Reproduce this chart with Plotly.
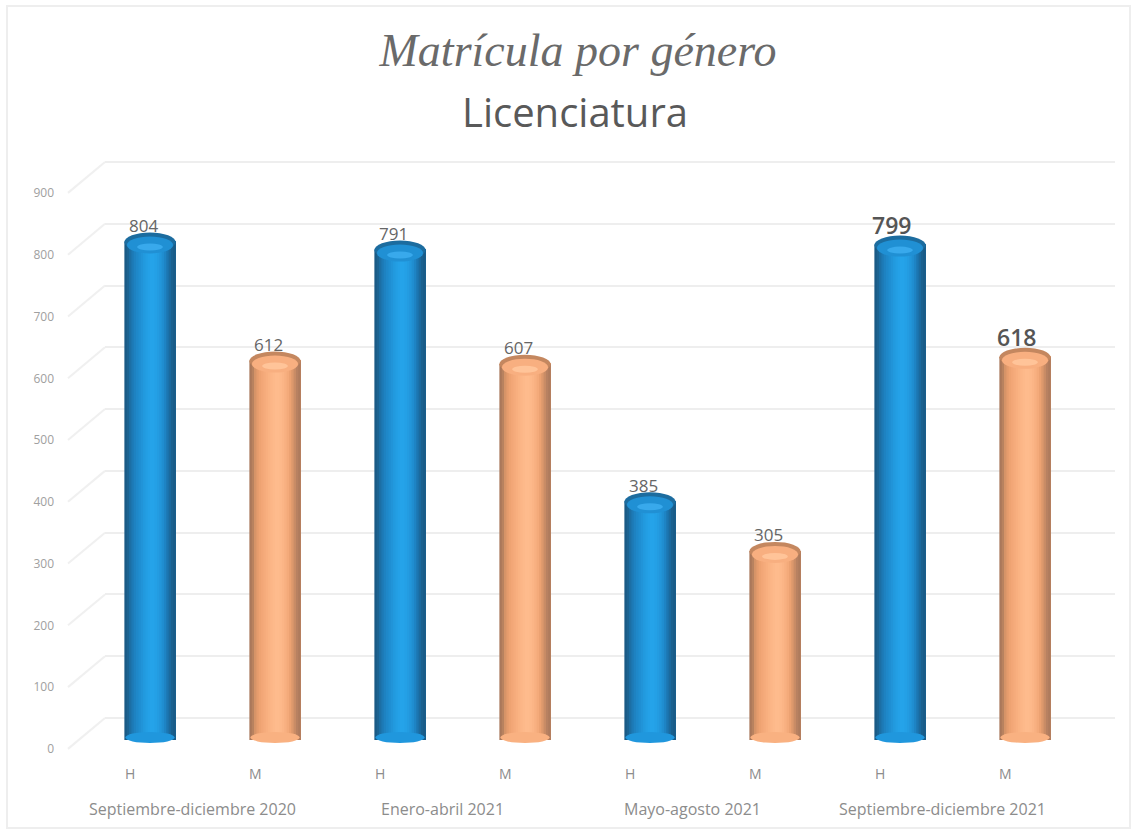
import plotly.graph_objects as go

# ---- data ----
sexo = ["H", "M", "H", "M", "H", "M", "H", "M"]
valores = [804, 612, 791, 607, 385, 305, 799, 618]
periodos = ["Septiembre-diciembre 2020", "Enero-abril 2021", "Mayo-agosto 2021", "Septiembre-diciembre 2021"]
ticks_y = [0, 100, 200, 300, 400, 500, 600, 700, 800, 900]
titulo = "Matrícula por género"
subtitulo = "Licenciatura"

# ---- style ----
W, H = 1143, 830
azul = ["#1a5a85", "#1b6392", "#1c6fa5", "#1d79b5", "#1e82c1", "#1f88c9", "#208ed0", "#2194d8",
        "#229ade", "#239ee3", "#24a1e7", "#25a3e9", "#25a3e9", "#24a0e6", "#239ce1", "#2296da",
        "#208ed0", "#1e84c4", "#1c76b1", "#1b6a9e", "#1a618f", "#1a5b87"]
naranja = ["#a9785b", "#b8825f", "#d69468", "#e59c6d", "#eea372", "#f2a777", "#f5ab7b", "#f8af7f",
           "#fab383", "#fcb687", "#fdb98a", "#febb8d", "#febb8d", "#fdb98a", "#fbb586", "#f8b081",
           "#f4aa7a", "#eca272", "#dc986c", "#c98c66", "#b88161", "#ae7b5d"]
borde_azul, luz_azul = "#1c6c9f", "#38a9ec"
borde_nar, luz_nar = "#c4875f", "#ffc499"
ancho = 0.41
px_y_barras = 0.62
px_y_rejilla = 0.6178


def py(p):
    return 1 - p / H


fig = go.Figure()

# invisible trace keeps the back-wall grid axis alive
fig.add_trace(go.Scatter(x=[0], y=[0], mode="markers", marker=dict(opacity=0),
                         hoverinfo="skip", showlegend=False, xaxis="x", yaxis="y"))

n = len(azul)
for k in range(n):
    col = [azul[k] if s == "H" else naranja[k] for s in sexo]
    off = -ancho / 2 + ancho * k / n
    fig.add_trace(go.Bar(
        x=list(range(len(valores))), y=valores,
        width=ancho * (n - k) / n, offset=off,
        marker=dict(color=col, line=dict(width=0)),
        showlegend=False, hoverinfo="skip", xaxis="x", yaxis="y2",
    ))

shapes = [
    dict(type="rect", xref="paper", yref="paper", x0=7 / W, x1=1130 / W, y0=py(828), y1=py(6),
         line=dict(color="#eeeeee", width=2), layer="below"),
]
for v in ticks_y:
    shapes.append(dict(type="line", xref="paper", yref="y", x0=68 / W, x1=105 / W, y0=v - 50, y1=v,
                       line=dict(color="#f0f0f0", width=2), layer="below"))

u = 1 / px_y_barras
for i, (v, s) in enumerate(zip(valores, sexo)):
    borde, luz, mid = (borde_azul, luz_azul, "#2090d4") if s == "H" else (borde_nar, luz_nar, "#f8af80")
    fondo = "#2097dd" if s == "H" else "#f9b181"
    # base of the cylinder
    shapes.append(dict(type="circle", xref="x", yref="y2", x0=i - ancho * 0.48, x1=i + ancho * 0.48,
                       y0=-3 * u, y1=8 * u, fillcolor=fondo, line=dict(width=0), layer="above"))
    # top cap
    shapes.append(dict(type="circle", xref="x", yref="y2", x0=i - ancho / 2, x1=i + ancho / 2,
                       y0=v - 10 * u, y1=v + 9 * u, fillcolor=borde, line=dict(width=0), layer="above"))
    shapes.append(dict(type="circle", xref="x", yref="y2", x0=i - ancho * 0.45, x1=i + ancho * 0.45,
                       y0=v - 12 * u, y1=v + 5 * u, fillcolor=mid, line=dict(width=0), layer="above"))
    shapes.append(dict(type="circle", xref="x", yref="y2", x0=i - ancho * 0.25, x1=i + ancho * 0.25,
                       y0=v - 9 * u, y1=v - 2 * u, fillcolor=luz, line=dict(width=0), layer="above"))

annotations = []
for i, (v, s) in enumerate(zip(valores, sexo)):
    grande = i >= 6
    annotations.append(dict(
        x=i, y=v, xref="x", yref="y2", text=str(v), showarrow=False, yanchor="middle",
        xshift=-9 if grande else -7, yshift=20 if grande else 16,
        font=dict(family="Open Sans", size=23 if grande else 17,
                  color="#555555" if grande else "#666666", weight=600 if grande else 400),
    ))
    annotations.append(dict(
        x=i, y=py(773), xref="x", yref="paper", text=s, showarrow=False, xshift=-20, yanchor="middle",
        font=dict(family="Open Sans", size=14, color="#8c8c8c"),
    ))

for j, p in enumerate(periodos):
    annotations.append(dict(
        x=j * 2 + 0.34, y=py(809), xref="x", yref="paper", text=p, showarrow=False, yanchor="middle",
        font=dict(family="Open Sans", size=16, color="#8c8c8c"),
    ))

annotations.append(dict(
    x=574.5 / W, y=py(111), xref="paper", yref="paper", text=subtitulo, showarrow=False, yanchor="middle",
    font=dict(family="Open Sans", size=40, color="#595959"),
))

fig.update_layout(
    width=W, height=H,
    margin=dict(l=0, r=0, t=0, b=0),
    paper_bgcolor="white", plot_bgcolor="white",
    barmode="overlay",
    title=dict(text="<i>" + titulo + "</i>", x=578 / W, xanchor="center", y=py(50), yanchor="middle",
               font=dict(family="Liberation Serif", size=46, color="#6a6a6a")),
    xaxis=dict(domain=[105 / W, 1115 / W], range=[-0.36, 7.72], showgrid=False, zeroline=False,
               showticklabels=False, showline=False, ticks=""),
    yaxis=dict(domain=[py(760), py(150)], range=[-42 / px_y_rejilla, 568 / px_y_rejilla],
               tickvals=ticks_y, showgrid=True, gridcolor="#eeeeee", gridwidth=2, zeroline=False,
               showline=False, ticks="", ticklabelstandoff=50, ticklabelshift=31,
               tickfont=dict(family="Open Sans", size=12, color="#a0a0a0")),
    yaxis2=dict(overlaying="y", range=[-20 / px_y_barras, 590 / px_y_barras], showgrid=False,
                zeroline=False, showticklabels=False, showline=False, ticks=""),
    shapes=shapes,
    annotations=annotations,
    showlegend=False,
)

fig.write_html("out.html", config={"displayModeBar": False},
               post_script="document.body.style.margin='0';")
